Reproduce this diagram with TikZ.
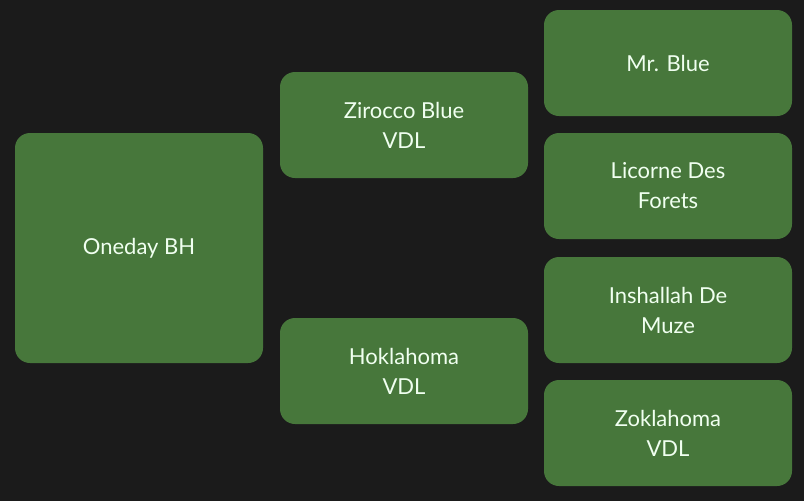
\documentclass[tikz,border=0pt]{standalone}
\usepackage{fontspec}
\setmainfont{Lato}
\definecolor{bg}{HTML}{1B1B1B}
\definecolor{boxg}{HTML}{47773B}
\definecolor{txt}{HTML}{F0FFF0}
\begin{document}
\begin{tikzpicture}[x=1pt,y=-1pt,
  hbox/.style={fill=boxg, rounded corners=15pt, text=txt, align=center,
    font=\fontsize{22}{30}\selectfont, inner sep=0pt}]
\fill[bg] (0,0) rectangle (804,501);
\useasboundingbox (0,0) rectangle (804,501);
\node[hbox, minimum width=248pt, minimum height=230pt] (a) at (139,248) {Oneday BH};
\node[hbox, minimum width=248pt, minimum height=106pt] (b) at (404,125) {Zirocco Blue\\VDL};
\node[hbox, minimum width=248pt, minimum height=106pt] (c) at (404,371) {Hoklahoma\\VDL};
\node[hbox, minimum width=248pt, minimum height=106pt] (d) at (668,63) {Mr. Blue};
\node[hbox, minimum width=248pt, minimum height=106pt] (e) at (668,186) {Licorne Des\\Forets};
\node[hbox, minimum width=248pt, minimum height=106pt] (f) at (668,310) {Inshallah De\\Muze};
\node[hbox, minimum width=248pt, minimum height=106pt] (g) at (668,433) {Zoklahoma\\VDL};
\end{tikzpicture}
\end{document}
